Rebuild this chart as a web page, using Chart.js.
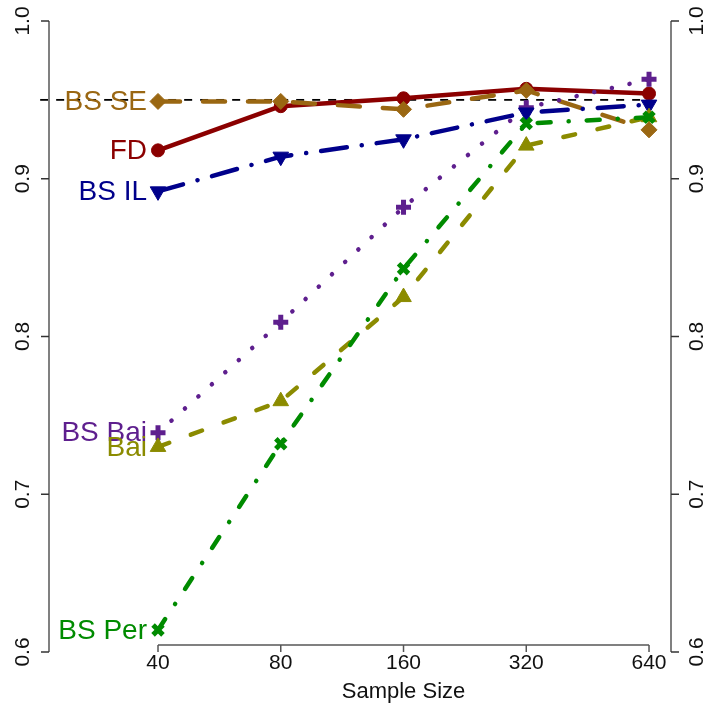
<!DOCTYPE html>
<html>
<head>
<meta charset="utf-8">
<script src="https://cdn.jsdelivr.net/npm/chart.js@4.4.1/dist/chart.umd.min.js"></script>
<style>
  html, body { margin: 0; padding: 0; background: #fff; }
  #wrap { width: 707px; height: 708px; }
</style>
</head>
<body>
<div id="wrap"><canvas id="coverageChart" width="707" height="708"></canvas></div>
<script>
const sampleSizes = ['40', '80', '160', '320', '640'];
const yTicks = [0.6, 0.7, 0.8, 0.9, 1.0];
const nominal = 0.95;

const seriesNames = ['FD', 'BS SE', 'BS Bai', 'BS IL', 'Bai', 'BS Per'];
const fdValues     = [0.918, 0.946, 0.951, 0.957, 0.954];
const bsSeValues   = [0.949, 0.949, 0.944, 0.956, 0.931];
const bsBaiValues  = [0.739, 0.809, 0.882, 0.945, 0.963];
const bsIlValues   = [0.892, 0.914, 0.925, 0.942, 0.947];
const baiValues    = [0.730, 0.759, 0.825, 0.921, 0.939];
const bsPerValues  = [0.614, 0.732, 0.843, 0.935, 0.939];

const FONT = '"Liberation Sans", Arial, Helvetica, sans-serif';

function toPoints(values) {
    return values.map((v, i) => ({ x: i, y: v }));
}

const seriesStyles = [
    { color: '#8B0000', dash: [], point: 'circle', radius: 6.5, rotation: 0, pbw: 1 },
    { color: '#9A6712', dash: [22, 23], point: 'rectRot', radius: 8, rotation: 0, pbw: 1 },
    { color: '#5E1F8E', dash: [0.1, 18], point: 'cross', radius: 7.5, rotation: 0, pbw: 5 },
    { color: '#00008B', dash: [26, 15, 0.1, 15], point: 'triangle', radius: 9, rotation: 180, pbw: 1 },
    { color: '#8B8B00', dash: [12, 23], point: 'triangle', radius: 9, rotation: 0, pbw: 1 },
    { color: '#008B00', dash: [13, 18, 0.1, 18], point: 'crossRot', radius: 7, rotation: 0, pbw: 5 }
];
const seriesValues = [fdValues, bsSeValues, bsBaiValues, bsIlValues, baiValues, bsPerValues];

const datasets = seriesNames.map((name, k) => {
    const s = seriesStyles[k];
    return {
        label: name,
        data: toPoints(seriesValues[k]),
        borderColor: s.color,
        backgroundColor: s.color,
        borderWidth: 4.5,
        borderDash: s.dash,
        borderCapStyle: 'round',
        borderJoinStyle: 'round',
        pointStyle: s.point,
        pointRadius: s.radius,
        pointRotation: s.rotation,
        pointBorderWidth: s.pbw,
        pointBackgroundColor: s.color,
        pointBorderColor: s.color,
        tension: 0,
        order: seriesNames.length - k
    };
});

// nominal 95% reference line
datasets.push({
    label: 'nominal',
    data: [{ x: -0.96, y: nominal }, { x: 3.97, y: nominal }],
    borderColor: '#000',
    borderWidth: 1.8,
    borderDash: [8, 8],
    pointRadius: 0,
    clip: false,
    order: 100
});

const xMin = -0.888, xMax = 4.179;

// R-style axes, rotated tick labels and series labels
const axesPlugin = {
    id: 'rAxes',
    afterDatasetsDraw(chart) {
        const ctx = chart.ctx;
        const xs = chart.scales.x, ys = chart.scales.y;
        const area = chart.chartArea;
        ctx.save();

        // series labels left of the first point
        ctx.font = '28px ' + FONT;
        ctx.textAlign = 'right';
        ctx.textBaseline = 'middle';
        seriesNames.forEach((name, k) => {
            ctx.fillStyle = seriesStyles[k].color;
            ctx.fillText(name, xs.getPixelForValue(0) - 11, ys.getPixelForValue(seriesValues[k][0]) + 1);
        });

        // y axes
        const yTop = ys.getPixelForValue(yTicks[yTicks.length - 1]);
        const yBot = ys.getPixelForValue(yTicks[0]);
        [area.left, area.right].forEach((ax, side) => {
            ctx.strokeStyle = '#808080';
            ctx.lineWidth = 2;
            ctx.beginPath();
            ctx.moveTo(ax, yTop);
            ctx.lineTo(ax, yBot);
            ctx.stroke();
            const dir = side === 0 ? -1 : 1;
            ctx.strokeStyle = '#333';
            ctx.lineWidth = 1.5;
            ctx.font = '21px ' + FONT;
            ctx.fillStyle = '#111';
            ctx.textAlign = 'center';
            ctx.textBaseline = 'middle';
            yTicks.forEach(t => {
                const py = ys.getPixelForValue(t);
                ctx.beginPath();
                ctx.moveTo(ax, py);
                ctx.lineTo(ax + dir * 8, py);
                ctx.stroke();
                ctx.save();
                ctx.translate(ax + dir * 26, py);
                ctx.rotate(-Math.PI / 2);
                ctx.fillText(t.toFixed(1), 0, 0);
                ctx.restore();
            });
        });

        // x axis
        const axisY = area.bottom - 7;
        ctx.strokeStyle = '#808080';
        ctx.lineWidth = 2;
        ctx.beginPath();
        ctx.moveTo(xs.getPixelForValue(0), axisY);
        ctx.lineTo(xs.getPixelForValue(sampleSizes.length - 1), axisY);
        ctx.stroke();
        ctx.strokeStyle = '#555';
        ctx.lineWidth = 1.5;
        ctx.fillStyle = '#111';
        ctx.font = '21px ' + FONT;
        ctx.textAlign = 'center';
        ctx.textBaseline = 'middle';
        sampleSizes.forEach((lab, i) => {
            const px = xs.getPixelForValue(i);
            ctx.beginPath();
            ctx.moveTo(px, axisY);
            ctx.lineTo(px, axisY + 7);
            ctx.stroke();
            ctx.fillText(lab, px, 663);
        });
        ctx.font = '22px ' + FONT;
        ctx.fillText('Sample Size', xs.getPixelForValue(2), 692);

        ctx.restore();
    }
};

const ctx = document.getElementById('coverageChart').getContext('2d');
const coverageChart = new Chart(ctx, {
    type: 'line',
    data: { datasets: datasets },
    options: {
        responsive: false,
        animation: false,
        layout: { padding: { left: 49, right: 36, top: 21, bottom: 56 } },
        scales: {
            x: { type: 'linear', min: xMin, max: xMax, display: false },
            y: { type: 'linear', min: yTicks[0], max: yTicks[yTicks.length - 1], display: false }
        },
        plugins: {
            legend: { display: false },
            tooltip: { enabled: false }
        }
    },
    plugins: [axesPlugin]
});
</script>
</body>
</html>
